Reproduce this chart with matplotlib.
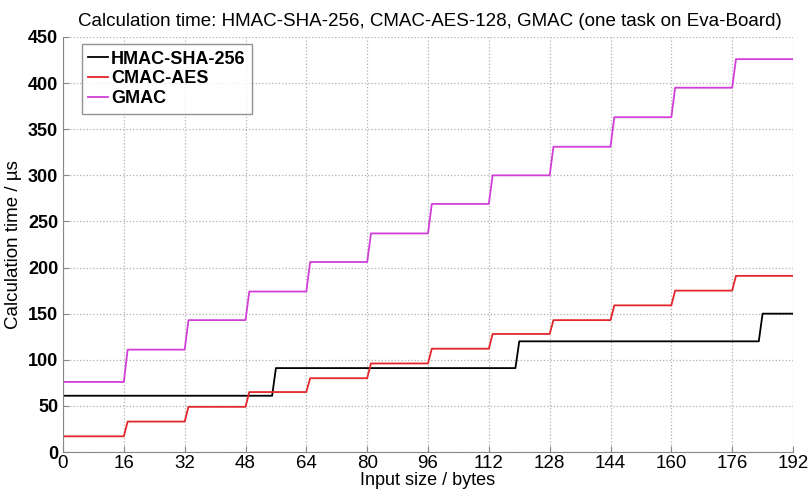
import numpy as np
import matplotlib
matplotlib.use("Agg")
import matplotlib.pyplot as plt

plt.rcParams['font.family'] = ['Liberation Sans', 'DejaVu Sans']

# block boundaries (bytes) where the calculation time jumps
aes_edges = [0, 16, 32, 48, 64, 80, 96, 112, 128, 144, 160, 176, 192]
sha_edges = [0, 55, 119, 183, 192]

# calculation time per block count (us)
hmac_levels = [61, 91, 120, 150]
cmac_levels = [17, 33, 49, 65, 80, 96, 112, 128, 143, 159, 175, 191]
gmac_levels = [76, 111, 143, 174, 206, 237, 269, 300, 331, 363, 395, 426]

xticks = [0, 16, 32, 48, 64, 80, 96, 112, 128, 144, 160, 176, 192]


def steps(edges, levels):
    xs, ys = [], []
    for i, lv in enumerate(levels):
        start = edges[i] if i == 0 else edges[i] + 1
        xs += [start, edges[i + 1]]
        ys += [lv, lv]
    return xs, ys


fig = plt.figure(figsize=(8.1, 4.9), dpi=100)
ax = fig.add_axes([63 / 810, 38 / 490, 730 / 810, 415 / 490])

hx, hy = steps(sha_edges, hmac_levels)
cx, cy = steps(aes_edges, cmac_levels)
gx, gy = steps(aes_edges, gmac_levels)
ax.plot(hx, hy, color="black", lw=1.3, label="HMAC-SHA-256")
ax.plot(cx, cy, color="#e3262b", lw=1.3, label="CMAC-AES")
ax.plot(gx, gy, color="#d23fd8", lw=1.3, label="GMAC")

ax.set_xlim(0, 192)
ax.set_ylim(0, 450)
ax.set_xticks(xticks)
ax.set_yticks(np.arange(0, 451, 50))
ax.grid(True, linestyle=":", color="#b0b0b0", lw=0.9)
for s in ["top", "right"]:
    ax.spines[s].set_visible(False)
for s in ["left", "bottom"]:
    ax.spines[s].set_color("#888888")
ax.tick_params(direction="in", length=4, color="#888888")
ax.tick_params(axis="x", pad=2)
for lab in ax.get_xticklabels():
    lab.set_fontsize(13.5)
for lab in ax.get_yticklabels():
    lab.set_fontsize(13)
    lab.set_fontweight("bold")

ax.set_title("Calculation time: HMAC-SHA-256, CMAC-AES-128, GMAC (one task on Eva-Board)",
             fontsize=13.5, fontweight="medium", pad=8, x=0.503)
ax.set_xlabel("Input size / bytes", fontsize=13, labelpad=0)
ax.set_ylabel("Calculation time / µs", fontsize=13.5, labelpad=4)

leg = ax.legend(loc="upper left", fontsize=13, handlelength=1.1, handletextpad=0.15,
                borderpad=0.35, labelspacing=0.15, fancybox=False, borderaxespad=0,
                bbox_to_anchor=(0.026, 0.982))
leg.get_frame().set_edgecolor("#777777")
for t in leg.get_texts():
    t.set_fontweight("bold")

fig.savefig("out.png", dpi=100)
